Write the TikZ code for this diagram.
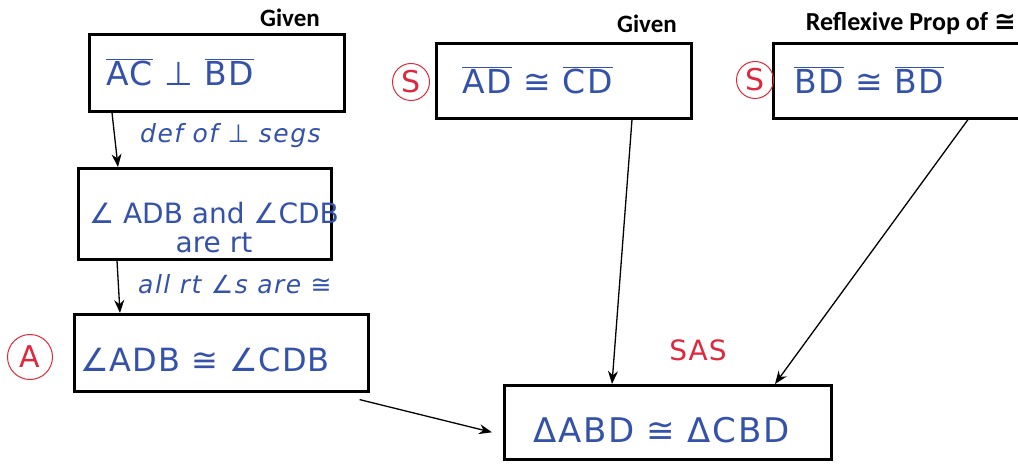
\documentclass[tikz,border=0pt]{standalone}
\usepackage{fontspec}
\setmainfont{DejaVu Sans}
\newfontfamily\labelfont{Carlito}
\newfontfamily\djv{DejaVu Sans}
\usetikzlibrary{arrows.meta}
\definecolor{ink}{RGB}{52,82,170}
\definecolor{mark}{RGB}{222,40,62}
\newcommand\seg[1]{$\overline{\hbox{#1}}$}
\tikzset{
  box/.style={draw=black,line width=2.6pt,rectangle,anchor=north west,inner sep=0pt},
  stmt/.style={text=ink,font=\fontsize{33}{36}\selectfont\addfontfeature{LetterSpace=4},anchor=west,inner sep=0pt},
  why/.style={text=ink,font=\fontsize{25}{28}\selectfont\itshape\addfontfeature{LetterSpace=6},anchor=west,inner sep=0pt},
  reason/.style={font=\labelfont\bfseries\fontsize{25}{28}\selectfont,inner sep=0pt},
  part/.style={circle,draw=mark,line width=1pt,text=mark,font=\fontsize{30}{32}\selectfont,inner sep=0pt,minimum size=37pt},
  arr/.style={line width=1.3pt,-{Stealth[length=13pt,width=10pt]}}
}
\begin{document}
\begin{tikzpicture}[x=1pt,y=-1pt]
\useasboundingbox[fill=white] (0,0) rectangle (1018,465);
% boxes
\node[box,minimum width=255pt,minimum height=77pt] (b1) at (88,33) {};
\node[box,minimum width=255pt,minimum height=75pt] (b2) at (435,42) {};
\node[box,minimum width=270pt,minimum height=75pt] (b3) at (772,42) {};
\node[box,minimum width=253pt,minimum height=91pt] (b4) at (77,167) {};
\node[box,minimum width=294pt,minimum height=77pt] (b5) at (73,313) {};
\node[box,minimum width=327pt,minimum height=74pt] (b6) at (503,384) {};
% statements
\node[stmt] (t1) at (106,72) {\seg{AC} ⊥ \seg{BD}};
\node[stmt] (t2) at (462,80) {\seg{AD} ≅ \seg{CD}};
\node[stmt] (t3) at (794,80) {\seg{BD} ≅ \seg{BD}};
\node[stmt,anchor=center,align=center,font=\fontsize{28}{29}\selectfont] (t4) at (214,228) {∠ ADB and ∠CDB\\are rt};
\node[stmt,font=\fontsize{32}{34}\selectfont\addfontfeature{LetterSpace=3}] (t5) at (80,360) {∠ADB ≅ ∠CDB};
\node[stmt,font=\fontsize{34}{36}\selectfont\addfontfeature{LetterSpace=5}] (t6) at (533,430) {ΔABD ≅ ΔCBD};
% reasons above
\node[reason] (g1) at (290,18) {Given};
\node[reason] (g2) at (647,24) {Given};
\node[reason,anchor=east,font=\labelfont\bfseries\fontsize{26}{28}\selectfont] (g3) at (1016,23) {Reflexive Prop of {\djv\bfseries ≅}};
% parts
\node[part] (s1) at (411,82) {S};
\node[part] (s2) at (755,80) {S};
\node[part,minimum size=45pt] (a1) at (30,357) {A};
\node[text=mark,font=\fontsize{28}{30}\selectfont\addfontfeature{LetterSpace=4}] (sas) at (698,350) {SAS};
% arrows
\draw[arr] ([xshift=24pt]b1.south west) -- ([xshift=41pt]b4.north west);
\draw[arr] ([xshift=40pt]b4.south west) -- ([xshift=47pt]b5.north west);
\draw[arr] ([xshift=-10pt,yshift=-7pt]b5.south east) -- ([xshift=-11pt,yshift=-10pt]b6.west);
\draw[arr] ([xshift=197pt]b2.south west) -- ([xshift=109pt]b6.north west);
\draw[arr] ([xshift=196pt]b3.south west) -- ([xshift=272pt]b6.north west);
% reasons on arrows
\node[why] (r1) at (140,136) {def of ⊥ segs};
\node[why] (r2) at (138,284) {all rt ∠s are ≅};
\end{tikzpicture}
\end{document}
